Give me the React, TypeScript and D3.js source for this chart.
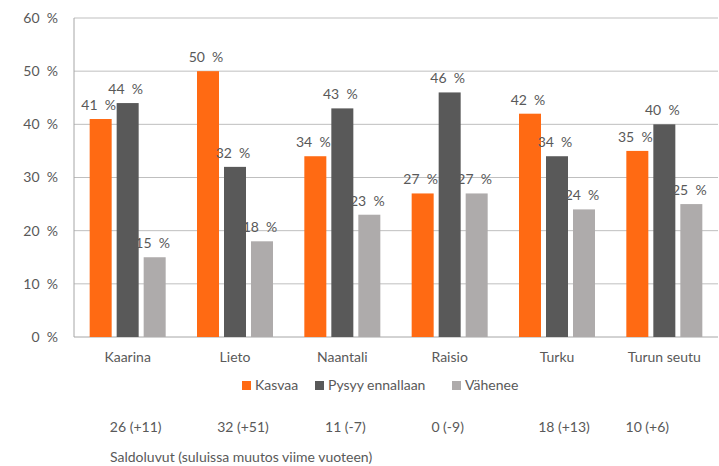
import React from "react";
import * as d3 from "d3";

const categories = ["Kaarina", "Lieto", "Naantali", "Raisio", "Turku", "Turun seutu"];
const seriesNames = ["Kasvaa", "Pysyy ennallaan", "Vähenee"];
const kasvaa = [41, 50, 34, 27, 42, 35];
const pysyy = [44, 32, 43, 46, 34, 40];
const vahenee = [15, 18, 23, 27, 24, 25];
const yTicks = [0, 10, 20, 30, 40, 50, 60];
const saldo = ["26 (+11)", "32 (+51)", "11 (-7)", "0 (-9)", "18 (+13)", "10 (+6)"];
const saldoOffset = [8, 8, 3, -2, 7, -17];
const footnote = "Saldoluvut (suluissa muutos viime vuoteen)";
const colors = ["#FF6A13", "#595959", "#AEABAB"];

const W = 719;
const H = 466;
const left = 74;
const right = 718;
const top = 18;
const bottom = 337;
const font = "Lato, 'Open Sans', sans-serif";
const textColor = "#595959";
const fs = 14;

export default function App() {
  const series = [kasvaa, pysyy, vahenee];
  const x0 = d3.scaleBand<string>().domain(categories).range([left, right]).paddingInner(0).paddingOuter(0);
  const groupW = 76;
  const x1 = d3
    .scaleBand<number>()
    .domain([0, 1, 2])
    .range([0, groupW])
    .paddingInner(5 / 27)
    .paddingOuter(0);
  const y = d3.scaleLinear().domain([0, 60]).range([bottom, top]);
  const groupStart = (c: string) => (x0(c) as number) + (x0.bandwidth() - groupW) / 2;

  const legendItems = [
    { x: 242, label: seriesNames[0] },
    { x: 315, label: seriesNames[1] },
    { x: 452, label: seriesNames[2] },
  ];

  return (
    <svg width={W} height={H} style={{ position: "absolute", left: 0, top: 0, background: "#fff" }} fontFamily={font}>
      {yTicks.map((t) => (
        <g key={t}>
          <line x1={left} x2={right} y1={y(t)} y2={y(t)} stroke={t === 0 ? "#A6A6A6" : "#BFBFBF"} strokeWidth={1} />
          <text x={58} y={y(t)} dy="0.35em" textAnchor="end" fontSize={fs} fill={textColor}>
            {`${t}\u00a0\u00a0%`}
          </text>
        </g>
      ))}
      <line x1={left} x2={left} y1={top} y2={bottom} stroke="#A6A6A6" strokeWidth={1} />
      {categories.map((c, i) => (
        <g key={c}>
          {series.map((s, k) => {
            const bx = groupStart(c) + (x1(k) as number);
            const bw = x1.bandwidth();
            return (
              <g key={k}>
                <rect x={bx} y={y(s[i])} width={bw} height={bottom - y(s[i])} fill={colors[k]} />
                <text
                  x={bx + bw / 2 - 2}
                  y={y(s[i]) - 9}
                  textAnchor="middle"
                  fontSize={fs}
                  fill={textColor}
                >
                  {`${s[i]}\u00a0\u00a0%`}
                </text>
              </g>
            );
          })}
          <text
            x={(x0(c) as number) + x0.bandwidth() / 2}
            y={357}
            dy="0.35em"
            textAnchor="middle"
            fontSize={fs}
            fill={textColor}
          >
            {c}
          </text>
          <text
            x={(x0(c) as number) + x0.bandwidth() / 2 + saldoOffset[i]}
            y={427}
            dy="0.35em"
            textAnchor="middle"
            fontSize={fs}
            fill={textColor}
          >
            {saldo[i]}
          </text>
        </g>
      ))}
      {legendItems.map((l, k) => (
        <g key={l.label}>
          <rect x={l.x} y={381} width={9} height={9} fill={colors[k]} />
          <text x={l.x + 13} y={385.5} dy="0.35em" fontSize={fs} fill={textColor}>
            {l.label}
          </text>
        </g>
      ))}
      <text x={110} y={457} dy="0.35em" fontSize={fs} fill={textColor}>
        {footnote}
      </text>
    </svg>
  );
}
